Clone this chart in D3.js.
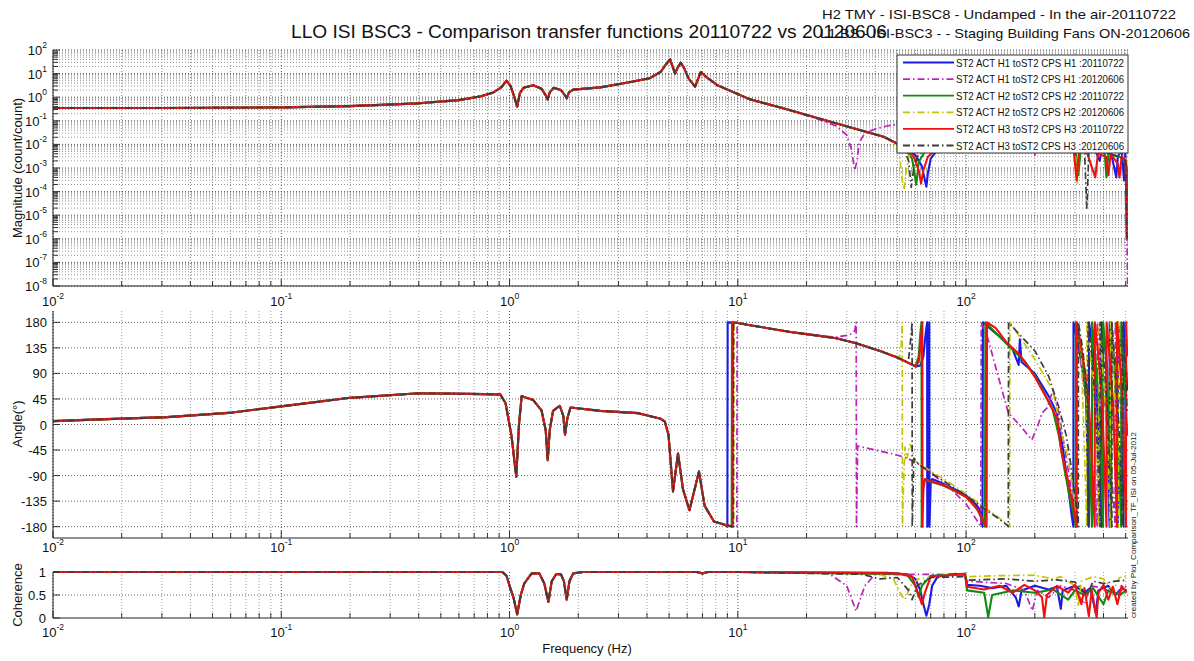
<!DOCTYPE html>
<html>
<head>
<meta charset="utf-8">
<script src="https://cdn.jsdelivr.net/npm/d3@7"></script>
<style>
  body { margin: 0; background: #fff; }
  text { font-family: "Liberation Sans", Arial, sans-serif; fill: #111; }
</style>
</head>
<body>
<svg width="1194" height="661"></svg>
<script>
// ---------- data ----------
const seriesNames = [
  "ST2 ACT H1 toST2 CPS H1 :20110722",
  "ST2 ACT H1 toST2 CPS H1 :20120606",
  "ST2 ACT H2 toST2 CPS H2 :20110722",
  "ST2 ACT H2 toST2 CPS H2 :20120606",
  "ST2 ACT H3 toST2 CPS H3 :20110722",
  "ST2 ACT H3 toST2 CPS H3 :20120606"
];
const xTickExps = ["-2", "-1", "0", "1", "2"];
const xTickVals = [0.01, 0.1, 1, 10, 100];
const magTickExps = ["2", "1", "0", "-1", "-2", "-3", "-4", "-5", "-6", "-7", "-8"];
const phaseTicks = [180, 135, 90, 45, 0, -45, -90, -135, -180];
const cohTicks = [1, 0.5, 0];
const cohTickLabels = ["1", "0.5", "0"];

// all six curves overlap below ~40 Hz
const magLow = [[0.01,0.35],[0.03,0.35],[0.1,0.37],[0.2,0.42],[0.4,0.55],[0.6,0.75],[0.75,1.1],[0.85,1.6],[0.92,2.6],[0.97,5.0],[1.01,3.0],[1.05,1.0],[1.08,0.4],[1.11,1.5],[1.15,2.5],[1.27,3.2],[1.38,2.3],[1.44,1.2],[1.47,0.8],[1.5,1.6],[1.56,2.5],[1.68,2.0],[1.75,1.2],[1.78,0.9],[1.82,1.6],[1.9,2.1],[2.5,2.6],[3.3,4.2],[4.1,6.3],[4.6,12],[4.85,25],[5.05,40],[5.2,18],[5.31,10],[5.45,18],[5.62,29],[5.8,18],[6.1,6],[6.5,2.8],[6.7,6],[6.88,11.5],[7.3,7],[8.1,3.3],[11.3,0.81],[15.8,0.34],[22.3,0.13],[31,0.053],[43.5,0.021]];
const phaseLow = [[0.01,6],[0.016,9],[0.0316,13],[0.061,21],[0.1,32],[0.2,47],[0.4,55],[0.65,54],[0.91,53],[0.96,38],[1.02,-20],[1.07,-92],[1.1,0],[1.13,50],[1.27,43],[1.38,25],[1.44,-10],[1.47,-63],[1.5,-10],[1.55,24],[1.66,33],[1.72,15],[1.75,-18],[1.79,10],[1.85,30],[2.5,24],[3.66,20],[4.6,10],[4.79,5],[4.97,-18],[5.2,-118],[5.47,-51],[5.75,-114],[6.14,-151],[6.76,-83],[7.15,-143],[7.86,-171],[8.85,-177]];
const phaseUpper = [[10,179],[11.3,175],[17,163],[22,157],[27,152],[33,143],[43,128],[50,118]];
const cohLow = [[0.01,1],[0.1,1],[0.93,1],[0.97,0.92],[1.0,0.7],[1.04,0.45],[1.08,0.08],[1.12,0.5],[1.16,0.75],[1.25,0.97],[1.35,0.97],[1.42,0.75],[1.48,0.35],[1.53,0.8],[1.6,0.95],[1.68,0.95],[1.73,0.8],[1.78,0.4],[1.83,0.8],[1.9,0.97],[2.1,1],[6.6,1],[7,0.97],[7.4,1]];

// frequency where each phase trace wraps from -180 to 180 near 10 Hz
const wrapFreqs = [9.0, 9.9, 9.4, 9.6, 9.5, 9.55];

// per-series parts above the frequency where they split apart
const magH1a = [[53,0.008],[60,0.0035],[64,0.0012],[66,0.0003],[67,0.00016],[68,0.0006],[70,0.0025],[75,0.006],[85,0.012],[100,0.018],[140,0.025],[200,0.03],[260,0.02],[300,0.012],[330,0.006],[360,0.009],[385,0.002],[395,0.008],[430,0.005],[455,0.0004],[462,0.003],[480,0.006],[492,0.0003],[498,0.004],[505,0.001],[508,1e-6]];
const magH1b = [[22.3,0.12],[27,0.06],[30,0.025],[31.5,0.006],[32.5,0.0008],[33.3,0.002],[34,0.012],[36,0.03],[40,0.045],[45,0.06],[55,0.085],[70,0.1],[90,0.12],[130,0.1],[180,0.07],[196,0.02],[200,0.0035],[204,0.03],[250,0.05],[300,0.04],[350,0.03],[420,0.02],[470,0.015],[500,0.006],[505,1e-5],[510,1e-8]];
const magH2a = [[53,0.008],[58,0.0025],[60.5,0.0002],[62,0.0018],[66,0.005],[75,0.008],[100,0.015],[150,0.022],[200,0.025],[260,0.018],[300,0.01],[310,0.0005],[318,0.006],[360,0.008],[405,0.004],[412,0.0004],[420,0.004],[470,0.003],[500,0.002],[506,1e-6]];
const magH2b = [[43.5,0.021],[48,0.012],[51,0.004],[52.5,0.0003],[53.5,0.00012],[54.5,0.0006],[56,0.003],[60,0.006],[70,0.01],[100,0.018],[150,0.025],[200,0.028],[260,0.02],[300,0.01],[307,0.0002],[312,0.006],[340,0.008],[380,0.004],[440,0.006],[500,0.003],[507,1e-6]];
const magH3a = [[53,0.008],[59,0.003],[62,0.0008],[63.5,0.00022],[65,0.0008],[68,0.003],[72,0.005],[100,0.012],[150,0.02],[200,0.022],[260,0.015],[295,0.008],[305,0.0003],[312,0.004],[335,0.006],[368,0.0004],[378,0.004],[410,0.003],[420,0.0005],[430,0.004],[462,0.0015],[470,0.0004],[480,0.003],[500,0.002],[506,1e-6]];
const magH3b = [[43.5,0.021],[53,0.008],[56,0.002],[57.5,0.00015],[59,0.001],[62,0.004],[75,0.009],[100,0.016],[150,0.024],[200,0.026],[260,0.02],[300,0.012],[330,0.006],[338,2e-5],[345,0.005],[380,0.006],[420,0.004],[470,0.003],[500,0.002],[507,1e-6]];

const phH1a = [[55,110],[60,102],[63,104],[65,120],[66.5,160],[67.5,180],[67.6,-180],[68,-110],[69,180],[69.1,-180],[70,-100],[71,-96],[75,-100],[85,-110],[100,-125],[110,-140],[115,-150],[117,-172],[118,-180],[118.5,180],[125,172],[140,155],[160,132],[170,105],[172,150],[175,110],[200,90],[230,50],[250,20],[265,-40],[280,-110],[290,-160],[295,-180],[295.5,180],[320,110],[335,60],[345,-180],[345.5,180],[360,130],[372,60],[380,-20],[392,-180],[392.5,180],[410,120],[425,-180],[425.5,180],[440,120],[455,60],[462,-180],[462.5,180],[480,120],[490,-180],[490.5,180],[500,120],[508,60]];
const phH1b = [[27,154],[31,158],[32.5,165],[33,180],[33.1,-180],[33.5,-38],[40,-45],[48,-52],[54,-58],[60,-66],[70,-85],[85,-112],[100,-140],[112,-170],[116,-180],[116.5,180],[125,150],[135,100],[153,21],[175,-5],[194,-27],[205,-5],[215,20],[227,30],[240,60],[255,20],[270,-40],[285,-100],[300,-170],[303,-180],[303.5,180],[320,100],[340,20],[355,-60],[370,-140],[375,-180],[375.5,180],[395,90],[420,-30],[440,-120],[450,-180],[450.5,180],[470,60],[490,-60],[505,-150]];
const phH2a = [[55,110],[60,103],[62,120],[63,160],[63.8,180],[63.9,-180],[64.5,-110],[66,-98],[70,-101],[80,-108],[100,-127],[112,-150],[120,-175],[121,-180],[121.5,180],[130,168],[150,143],[180,112],[200,86],[220,55],[240,25],[255,-20],[270,-80],[285,-130],[300,-170],[302,-180],[302.5,180],[320,120],[335,50],[348,-60],[356,-180],[356.5,180],[370,110],[385,20],[398,-180],[398.5,180],[415,100],[432,-180],[432.5,180],[448,90],[470,-100],[478,-180],[478.5,180],[495,80],[508,-20]];
const phH2b = [[48,122],[51,118],[52,140],[52.5,180],[52.6,-180],[53,-125],[54,-40],[55,-60],[57,-35],[60,-65],[70,-82],[85,-103],[100,-122],[120,-146],[140,-165],[150,-175],[155,-180],[155.5,180],[175,150],[200,115],[240,60],[260,-10],[280,-60],[295,-120],[305,-170],[307,-180],[307.5,180],[320,120],[338,-180],[338.5,180],[355,100],[370,20],[382,-180],[382.5,180],[400,80],[418,-40],[428,-180],[428.5,180],[445,90],[465,-180],[465.5,180],[485,60],[500,-180],[500.5,180],[508,120]];
const phH3a = [[55,110],[60,103],[62,110],[63.5,150],[64.3,180],[64.4,-180],[65,-115],[66,-96],[68,-98],[70,-100],[75,-103],[85,-112],[100,-128],[110,-145],[116,-160],[120,-172],[123,-180],[123.5,180],[135,170],[150,145],[170,125],[185,105],[200,84],[230,40],[250,11],[262,-49],[280,-100],[300,-160],[305,-180],[305.5,180],[315,150],[330,100],[345,40],[355,-60],[362,-140],[366,-180],[366.5,180],[380,120],[395,30],[405,-90],[412,-180],[412.5,180],[425,120],[440,40],[452,-100],[458,-180],[458.5,180],[470,120],[485,40],[495,-80],[502,-180],[502.5,180],[508,120]];
const phH3b = [[54,112],[56,115],[57.5,160],[58,180],[58.1,-180],[59,-60],[62,-70],[70,-85],[80,-100],[100,-125],[120,-148],[140,-167],[152,-178],[153,-180],[153.5,180],[170,160],[200,130],[230,85],[255,30],[275,-20],[290,-80],[305,-150],[310,-180],[310.5,180],[325,130],[340,40],[342,-180],[342.5,180],[360,100],[378,-60],[386,-180],[386.5,180],[400,120],[420,0],[435,-180],[435.5,180],[450,100],[470,-20],[484,-180],[484.5,180],[498,100],[508,20]];

const cohH1a = [[10,1],[30,0.99],[45,0.98],[55,0.95],[60,0.85],[63,0.6],[65,0.3],[67,0.05],[69,0.3],[71,0.7],[75,0.9],[85,0.95],[99,0.96],[101,0.72],[115,0.7],[130,0.65],[150,0.7],[165,0.45],[170,0.25],[175,0.6],[200,0.7],[230,0.62],[250,0.68],[260,0.2],[265,0.6],[300,0.7],[330,0.55],[350,0.65],[370,0.1],[380,0.6],[420,0.7],[450,0.5],[480,0.65],[505,0.6]];
const cohH1b = [[10,1],[25,0.97],[30,0.7],[33,0.15],[36,0.7],[40,0.95],[70,0.95],[99,0.93],[101,0.8],[150,0.75],[180,0.6],[195,0.16],[205,0.6],[230,0.45],[260,0.7],[300,0.6],[330,0.3],[350,0.7],[400,0.65],[450,0.5],[505,0.7]];
const cohH2a = [[10,1],[55,0.95],[60,0.7],[62,0.45],[64,0.7],[70,0.92],[99,0.95],[101,0.6],[120,0.55],[125,0.02],[130,0.5],[160,0.6],[200,0.55],[240,0.62],[280,0.4],[300,0.6],[330,0.5],[360,0.65],[400,0.3],[420,0.6],[470,0.5],[505,0.6]];
const cohH2b = [[10,1],[40,0.98],[48,0.85],[52,0.5],[54,0.4],[57,0.7],[62,0.85],[80,0.92],[99,0.95],[101,0.9],[140,0.92],[200,0.93],[240,0.85],[260,0.9],[300,0.7],[310,0.25],[320,0.8],[360,0.9],[400,0.85],[440,0.6],[470,0.88],[505,0.9]];
const cohH3a = [[10,1],[50,0.97],[58,0.9],[62,0.5],[64,0.3],[66,0.55],[70,0.9],[99,0.95],[101,0.68],[120,0.62],[140,0.7],[160,0.55],[180,0.72],[200,0.6],[215,0.45],[220,0.02],[226,0.5],[250,0.7],[280,0.55],[300,0.72],[320,0.3],[330,0.65],[345,0.04],[355,0.6],[373,0.02],[380,0.55],[400,0.72],[420,0.4],[440,0.68],[460,0.3],[480,0.7],[505,0.55]];
const cohH3b = [[10,1],[35,0.95],[42,0.85],[50,0.88],[56,0.6],[58,0.4],[61,0.7],[70,0.88],[99,0.9],[101,0.82],[150,0.85],[200,0.8],[250,0.83],[300,0.78],[340,0.5],[360,0.8],[400,0.75],[450,0.8],[505,0.82]];

const magHi = [magH1a, magH1b, magH2a, magH2b, magH3a, magH3b];
const phHi = [phH1a, phH1b, phH2a, phH2b, phH3a, phH3b];
const cohHi = [cohH1a, cohH1b, cohH2a, cohH2b, cohH3a, cohH3b];

// ---------- styles ----------
const colors = ["#1a1ae6", "#bf1fbf", "#108a10", "#c4c400", "#f01010", "#3c3c3c"];
const dashed = [false, true, false, true, false, true];
const drawOrder = [0, 1, 2, 3, 4, 5];

// ---------- layout ----------
const svg = d3.select("svg");
const L = 53, R = 1128;
const x = d3.scaleLog().domain([0.01, 512]).range([L, R]);
const panels = [
  { top: 50, bottom: 286, y: d3.scaleLog().domain([1e-8, 1e2]).range([286, 50]), lab: 306 },
  { top: 311, bottom: 538, y: d3.scaleLinear().domain([-200, 200]).range([538, 311]), lab: 552 },
  { top: 572, bottom: 618, y: d3.scaleLinear().domain([0, 1]).range([618, 572]), lab: 637 }
];

function joinAt(shared, own) {
  const f0 = own[0][0];
  return shared.filter(d => d[0] < f0).concat(own);
}
const magData = magHi.map(h => joinAt(magLow, h));
const phData = phHi.map((h, i) => joinAt(phaseLow.concat([[wrapFreqs[i], -180], [wrapFreqs[i] * 1.003, 180]]).concat(phaseUpper), h));
const cohData = cohHi.map(h => joinAt(cohLow, h));

// x grid positions 1..9 x 10^k
const xGrid = [];
for (let e = -2; e <= 2; e++) for (let k = 1; k <= 9; k++) { const v = k * Math.pow(10, e); if (v <= 512) xGrid.push(v); }
const isMajor = v => Math.abs(Math.log10(v) - Math.round(Math.log10(v))) < 1e-9;

const gridG = svg.append("g");
const dataG = svg.append("g");
const axG = svg.append("g");

panels.forEach((p, pi) => {
  // vertical grid
  gridG.selectAll(null).data(xGrid).enter().append("line")
    .attr("x1", d => x(d)).attr("x2", d => x(d))
    .attr("y1", p.top).attr("y2", p.bottom)
    .attr("stroke", d => isMajor(d) ? "#555" : (pi === 0 ? "#888" : "#a0a0a0"))
    .attr("stroke-width", 1)
    .attr("stroke-dasharray", "1,2");
  // bottom ticks (inside)
  axG.selectAll(null).data(xGrid).enter().append("line")
    .attr("x1", d => x(d)).attr("x2", d => x(d))
    .attr("y1", p.bottom).attr("y2", d => p.bottom - (isMajor(d) ? 7 : 5))
    .attr("stroke", "#333");
  // x tick labels
  xTickVals.forEach((v, i) => {
    const t = axG.append("text").attr("x", x(v)).attr("y", p.lab)
      .attr("text-anchor", "middle").attr("font-size", 13).text("10");
    t.append("tspan").attr("dy", -7).attr("font-size", 8.5).text(xTickExps[i]);
  });
  // axes lines: left + bottom
  axG.append("line").attr("x1", L).attr("x2", R).attr("y1", p.bottom).attr("y2", p.bottom).attr("stroke", "#222");
  axG.append("line").attr("x1", L).attr("x2", L).attr("y1", p.top).attr("y2", p.bottom).attr("stroke", "#222");
  // clip
  svg.append("clipPath").attr("id", "clip" + pi).append("rect")
    .attr("x", L).attr("y", p.top - 1).attr("width", R - L).attr("height", p.bottom - p.top + 2);
});

// magnitude y grid and ticks
const pm = panels[0];
const magGrid = [];
for (let e = -8; e <= 2; e++) for (let k = 1; k <= 9; k++) { const v = k * Math.pow(10, e); if (v <= 100) magGrid.push(v); }
gridG.selectAll(null).data(magGrid).enter().append("line")
  .attr("x1", L).attr("x2", R).attr("y1", d => pm.y(d)).attr("y2", d => pm.y(d))
  .attr("stroke", d => isMajor(d) ? "#555" : "#999")
  .attr("stroke-dasharray", "1,2");
axG.selectAll(null).data(magGrid).enter().append("line")
  .attr("x1", L).attr("x2", d => L + (isMajor(d) ? 7 : 5))
  .attr("y1", d => pm.y(d)).attr("y2", d => pm.y(d)).attr("stroke", "#333");
magTickExps.forEach(ex => {
  const t = axG.append("text").attr("x", 47).attr("y", pm.y(Math.pow(10, +ex)) + 5)
    .attr("text-anchor", "end").attr("font-size", 13).text("10");
  t.append("tspan").attr("dy", -7).attr("font-size", 8.5).text(ex);
});

// phase y grid
const pp = panels[1];
gridG.selectAll(null).data(phaseTicks).enter().append("line")
  .attr("x1", L).attr("x2", R).attr("y1", d => pp.y(d)).attr("y2", d => pp.y(d))
  .attr("stroke", "#666").attr("stroke-dasharray", "1,2");
axG.selectAll(null).data(phaseTicks).enter().append("line")
  .attr("x1", L).attr("x2", L + 7).attr("y1", d => pp.y(d)).attr("y2", d => pp.y(d)).attr("stroke", "#333");
axG.selectAll(null).data(phaseTicks).enter().append("text")
  .attr("x", 47).attr("y", d => pp.y(d) + 5).attr("text-anchor", "end").attr("font-size", 13)
  .text(d => d);

// coherence y grid
const pc = panels[2];
gridG.append("line").attr("x1", L).attr("x2", R).attr("y1", pc.y(0.5)).attr("y2", pc.y(0.5))
  .attr("stroke", "#666").attr("stroke-dasharray", "1,2");
axG.selectAll(null).data(cohTicks).enter().append("line")
  .attr("x1", L).attr("x2", L + 7).attr("y1", d => pc.y(d)).attr("y2", d => pc.y(d)).attr("stroke", "#333");
axG.selectAll(null).data(cohTicks).enter().append("text")
  .attr("x", 46).attr("y", d => pc.y(d) + 5).attr("text-anchor", "end").attr("font-size", 13)
  .text((d, i) => cohTickLabels[i]);

// ---------- curves ----------
const allData = [magData, phData, cohData];
allData.forEach((set, pi) => {
  const p = panels[pi];
  const line = d3.line().x(d => x(d[0])).y(d => p.y(d[1]));
  const g = dataG.append("g").attr("clip-path", `url(#clip${pi})`);
  drawOrder.forEach(i => {
    g.append("path").attr("d", line(set[i]))
      .attr("fill", "none")
      .attr("stroke", colors[i])
      .attr("stroke-width", dashed[i] ? 1.7 : 2.1)
      .attr("stroke-dasharray", dashed[i] ? "7,3,1.5,3" : null)
      .attr("stroke-linejoin", "round");
  });
});

// ---------- legend ----------
const lg = svg.append("g");
lg.append("rect").attr("x", 897).attr("y", 55).attr("width", 231).attr("height", 98)
  .attr("fill", "#fff").attr("stroke", "#333");
seriesNames.forEach((n, i) => {
  const yy = 62.5 + i * 16.6;
  lg.append("line").attr("x1", 903).attr("x2", 954).attr("y1", yy).attr("y2", yy)
    .attr("stroke", colors[i]).attr("stroke-width", 1.8)
    .attr("stroke-dasharray", dashed[i] ? "7,3,1.5,3" : null);
  lg.append("text").attr("x", 956).attr("y", yy + 4).attr("font-size", 11.5)
    .attr("textLength", 168).attr("lengthAdjust", "spacingAndGlyphs").text(n);
});

// ---------- titles ----------
svg.append("text").attr("x", 291).attr("y", 38).attr("font-size", 17.5)
  .attr("textLength", 596).attr("lengthAdjust", "spacingAndGlyphs")
  .text("LLO ISI BSC3 - Comparison transfer functions 20110722 vs 20120606");
svg.append("text").attr("x", 822).attr("y", 19).attr("font-size", 13)
  .attr("textLength", 354).attr("lengthAdjust", "spacingAndGlyphs")
  .text("H2 TMY - ISI-BSC8 - Undamped - In the air-20110722");
svg.append("text").attr("x", 820).attr("y", 38).attr("font-size", 13)
  .attr("textLength", 370).attr("lengthAdjust", "spacingAndGlyphs")
  .text("L1 BS - ISI-BSC3 -  - Staging Building Fans ON-20120606");

svg.append("text").attr("transform", "translate(22,168) rotate(-90)").attr("text-anchor", "middle")
  .attr("font-size", 13).text("Magnitude (count/count)");
svg.append("text").attr("transform", "translate(22,424) rotate(-90)").attr("text-anchor", "middle")
  .attr("font-size", 13).text("Angle(°)");
svg.append("text").attr("transform", "translate(22,595) rotate(-90)").attr("text-anchor", "middle")
  .attr("font-size", 13).text("Coherence");
svg.append("text").attr("x", 587).attr("y", 653).attr("text-anchor", "middle").attr("font-size", 13)
  .text("Frequency (Hz)");
svg.append("text").attr("transform", "translate(1136,618) rotate(-90)").attr("font-size", 8)
  .attr("textLength", 186).attr("lengthAdjust", "spacingAndGlyphs")
  .text("created by Plot_Comparison_TF_ISI on 05-Jul-2012");
</script>
</body>
</html>
